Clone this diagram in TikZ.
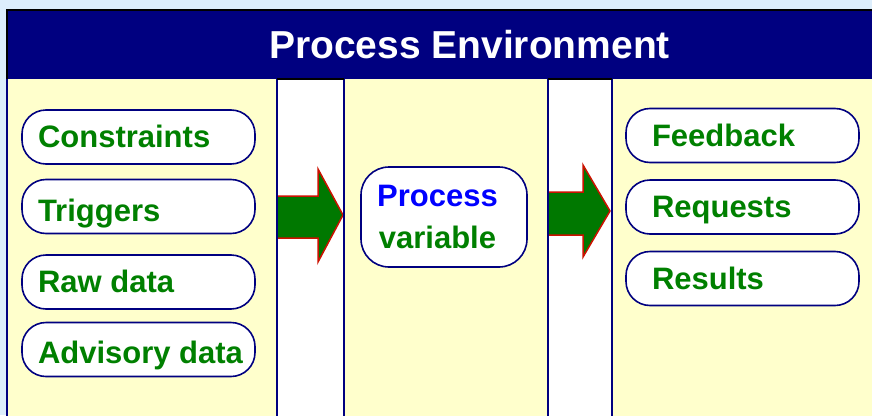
\documentclass[tikz,border=0pt]{standalone}
\usepackage{fontspec}
\setmainfont{Liberation Sans}
\definecolor{bgblue}{HTML}{DDEEFC}
\definecolor{navy}{HTML}{000080}
\definecolor{cream}{HTML}{FFFFCC}
\definecolor{txtgreen}{HTML}{008000}
\definecolor{arrgreen}{HTML}{007800}
\definecolor{arrred}{HTML}{CC1100}
\definecolor{pblue}{HTML}{0000FF}
\newcommand\lefttxt[1]{\makebox[201pt][l]{#1}}
\newcommand\righttxt[1]{\makebox[181pt][l]{#1}}
\tikzset{
  itembox/.style={draw=navy, line width=1.6pt, fill=white, rounded corners=24pt,
    minimum height=54pt, inner ysep=0pt, text height=25pt, text depth=4pt,
    text=txtgreen, font=\fontsize{31}{37}\selectfont\bfseries},
  lbox/.style={itembox, inner xsep=16pt},
  rbox/.style={itembox, inner xsep=26pt},
  lowtext/.style={text height=#1, text depth=0pt},
  blockarrow/.style={fill=arrgreen, draw=arrred, line width=1.5pt, line join=miter},
  colline/.style={navy, line width=1.6pt}
}
\begin{document}
\begin{tikzpicture}[x=1pt,y=-1pt]
\useasboundingbox (0,0) rectangle (872,415);
\fill[bgblue] (0,0) rectangle (872,415);
\begin{scope}
  \clip (0,0) rectangle (872,415);
  % panel
  \fill[cream] (7,79) rectangle (890,430);
  \fill[navy] (7,10) rectangle (890,79);
  \draw[black, line width=2.2pt] (7,79) -- (7,10) -- (890,10);
  \draw[navy, line width=1.6pt] (7,79) -- (7,430);
  % columns
  \fill[white] (277,79) rectangle (344,430);
  \fill[white] (548,79) rectangle (612,430);
\end{scope}
% block arrows
\draw[blockarrow] (277,196) -- (318,196) -- (318,169) -- (343,215) -- (318,262) -- (318,238) -- (277,238) -- cycle;
\draw[blockarrow] (548,192) -- (583,192) -- (583,165) -- (610,211) -- (583,257) -- (583,235) -- (548,235) -- cycle;
% column borders
\draw[colline] (277,79) -- (277,416);
\draw[colline] (344,79) -- (344,416);
\draw[colline] (548,79) -- (548,416);
\draw[colline] (612,79) -- (612,416);
\draw[black, line width=1.2pt] (277,79) -- (344,79);
\draw[black, line width=1.2pt] (548,79) -- (612,79);
% title
\node[anchor=base, text=white, font=\fontsize{39}{45}\selectfont\bfseries, inner sep=0pt] (title) at (469.5,58) {Process Environment};
% left items
\node[lbox] (constraints) at (138.5,137) {\lefttxt{Constraints}};
\node[lbox, lowtext=29pt] (triggers) at (138.5,206.5) {\lefttxt{Triggers}};
\node[lbox] (rawdata) at (138.5,282) {\lefttxt{Raw data}};
\node[lbox, lowtext=27pt] (advisory) at (138.5,349.5) {\lefttxt{Advisory data}};
% process variable
\node[draw=navy, line width=1.6pt, fill=white, rounded corners=28pt, minimum width=166pt, minimum height=100pt] (pvbox) at (444,217) {};
\node[align=center, inner sep=0pt, font=\fontsize{31}{42}\selectfont\bfseries] (pvtext) at (437.5,217) {\textcolor{pblue}{Process}\\\textcolor{txtgreen}{variable}};
% right items
\node[rbox] (feedback) at (742.5,135.5) {\righttxt{Feedback}};
\node[rbox] (requests) at (742.5,207) {\righttxt{Requests}};
\node[rbox] (results) at (742.5,278.5) {\righttxt{Results}};
\end{tikzpicture}
\end{document}
